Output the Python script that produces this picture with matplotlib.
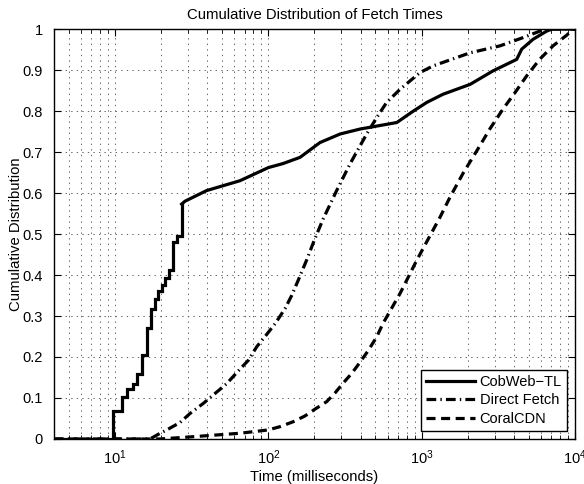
import matplotlib
matplotlib.use("Agg")
import matplotlib.pyplot as plt
from matplotlib.ticker import LogLocator, MultipleLocator, FormatStrFormatter, NullFormatter

plt.rcParams['font.family'] = ['Liberation Sans', 'DejaVu Sans']
plt.rcParams['mathtext.fontset'] = 'custom'
plt.rcParams['mathtext.rm'] = 'Liberation Sans'
plt.rcParams['mathtext.it'] = 'Liberation Sans'
plt.rcParams['lines.scale_dashes'] = False

# fetch times (ms) and cumulative fraction
cobweb_ms = [4, 9.7, 11.06, 12.03, 13.05, 13.98, 15.0, 16.1, 17.2, 18.2, 19.2, 20.2,
             21.2, 22.5, 24.0, 25.5, 27.2]
cobweb_cdf = [0, 0.069, 0.102, 0.122, 0.135, 0.158, 0.204, 0.271, 0.318, 0.342, 0.361,
              0.375, 0.393, 0.411, 0.480, 0.496, 0.573]
cobweb_tail_ms = [27.2, 28.6, 39.6, 65.3, 100, 125, 161, 217, 294, 396, 689, 884,
                  1080, 1380, 2070, 2924, 4169, 4496, 5330, 6546, 7100, 10000]
cobweb_tail_cdf = [0.573, 0.58, 0.606, 0.630, 0.662, 0.672, 0.687, 0.723, 0.744, 0.756,
                   0.772, 0.800, 0.821, 0.841, 0.865, 0.898, 0.926, 0.951, 0.975,
                   0.995, 1.0, 1.0]

direct_ms = [4, 16.9, 19.7, 21.7, 26.5, 30.8, 37.7, 44.9, 53.5, 63.7, 74.1, 84, 96.6,
             110.6, 128.5, 142, 157, 178, 200, 228, 279, 341, 438, 509, 591, 723, 977,
             1186, 2070, 3245, 4581, 5916, 6680, 10000]
direct_cdf = [0, 0, 0.014, 0.022, 0.04, 0.062, 0.087, 0.111, 0.135, 0.166, 0.192, 0.225,
              0.253, 0.281, 0.318, 0.350, 0.388, 0.437, 0.486, 0.537, 0.606, 0.671,
              0.744, 0.784, 0.821, 0.853, 0.894, 0.910, 0.942, 0.959, 0.979, 0.995,
              1.0, 1.0]

coral_ms = [4, 19.6, 30.8, 65.3, 99.5, 119, 145, 173, 202, 240, 272, 307, 350, 396,
            447, 509, 560, 723, 929, 1318, 1532, 1862, 2333, 2793, 3396, 4067, 4848,
            5916, 7194, 8836, 9700, 10000]
coral_cdf = [0, 0, 0.005, 0.014, 0.022, 0.03, 0.042, 0.056, 0.073, 0.091, 0.112, 0.136,
             0.16, 0.187, 0.215, 0.249, 0.282, 0.355, 0.436, 0.541, 0.590, 0.648,
             0.708, 0.757, 0.805, 0.845, 0.886, 0.927, 0.959, 0.985, 1.0, 1.0]

fig = plt.figure(figsize=(5.84, 4.84), dpi=100)
ax = fig.add_axes([0.0925, 0.093, 0.892, 0.847])

lw = 2.3
ax.plot(cobweb_ms, cobweb_cdf, color='k', lw=lw, drawstyle='steps-post',
        solid_joinstyle='miter', label='CobWeb\u2212TL')
ax.plot(cobweb_tail_ms, cobweb_tail_cdf, color='k', lw=lw)
ax.plot(direct_ms, direct_cdf, color='k', lw=lw, dashes=(7, 3, 1, 3),
        label='Direct Fetch')
ax.plot(coral_ms, coral_cdf, color='k', lw=lw, dashes=(6.5, 4), label='CoralCDN')

ax.set_xscale('log')
ax.set_xlim(4, 1e4)
ax.set_ylim(0, 1)
ax.yaxis.set_major_locator(MultipleLocator(0.1))
ax.yaxis.set_major_formatter(FormatStrFormatter('%g'))
ax.xaxis.set_major_locator(LogLocator(base=10))
ax.xaxis.set_minor_locator(LogLocator(base=10, subs=range(2, 10)))
ax.xaxis.set_minor_formatter(NullFormatter())

ax.grid(True, which='major', axis='both', color='0.4', linestyle=(0, (1, 3)), lw=0.7)
ax.grid(True, which='minor', axis='x', color='0.4', linestyle=(0, (1, 3)), lw=0.7)

ax.tick_params(which='both', direction='in', top=True, right=True, labelsize=10.5)
ax.tick_params(which='major', length=5, width=0.8)
ax.tick_params(which='minor', length=3, width=0.6)
ax.tick_params(axis='y', pad=8)
ax.tick_params(axis='x', pad=7)
for s in ax.spines.values():
    s.set_linewidth(1.0)

ax.set_title('Cumulative Distribution of Fetch Times', fontsize=10.75, pad=7)
ax.set_xlabel('Time (milliseconds)', fontsize=10.75, labelpad=2)
ax.set_ylabel('Cumulative Distribution', fontsize=10.75, labelpad=0)

h, l = ax.get_legend_handles_labels()
leg = ax.legend(h, l, loc='lower right', fontsize=10.5, frameon=True, fancybox=False,
                edgecolor='k', framealpha=1, borderpad=0.35, labelspacing=0.3,
                handlelength=3.3, handletextpad=0.35, borderaxespad=0.55)
leg.get_frame().set_linewidth(1.0)

fig.savefig('out.png', dpi=100)
